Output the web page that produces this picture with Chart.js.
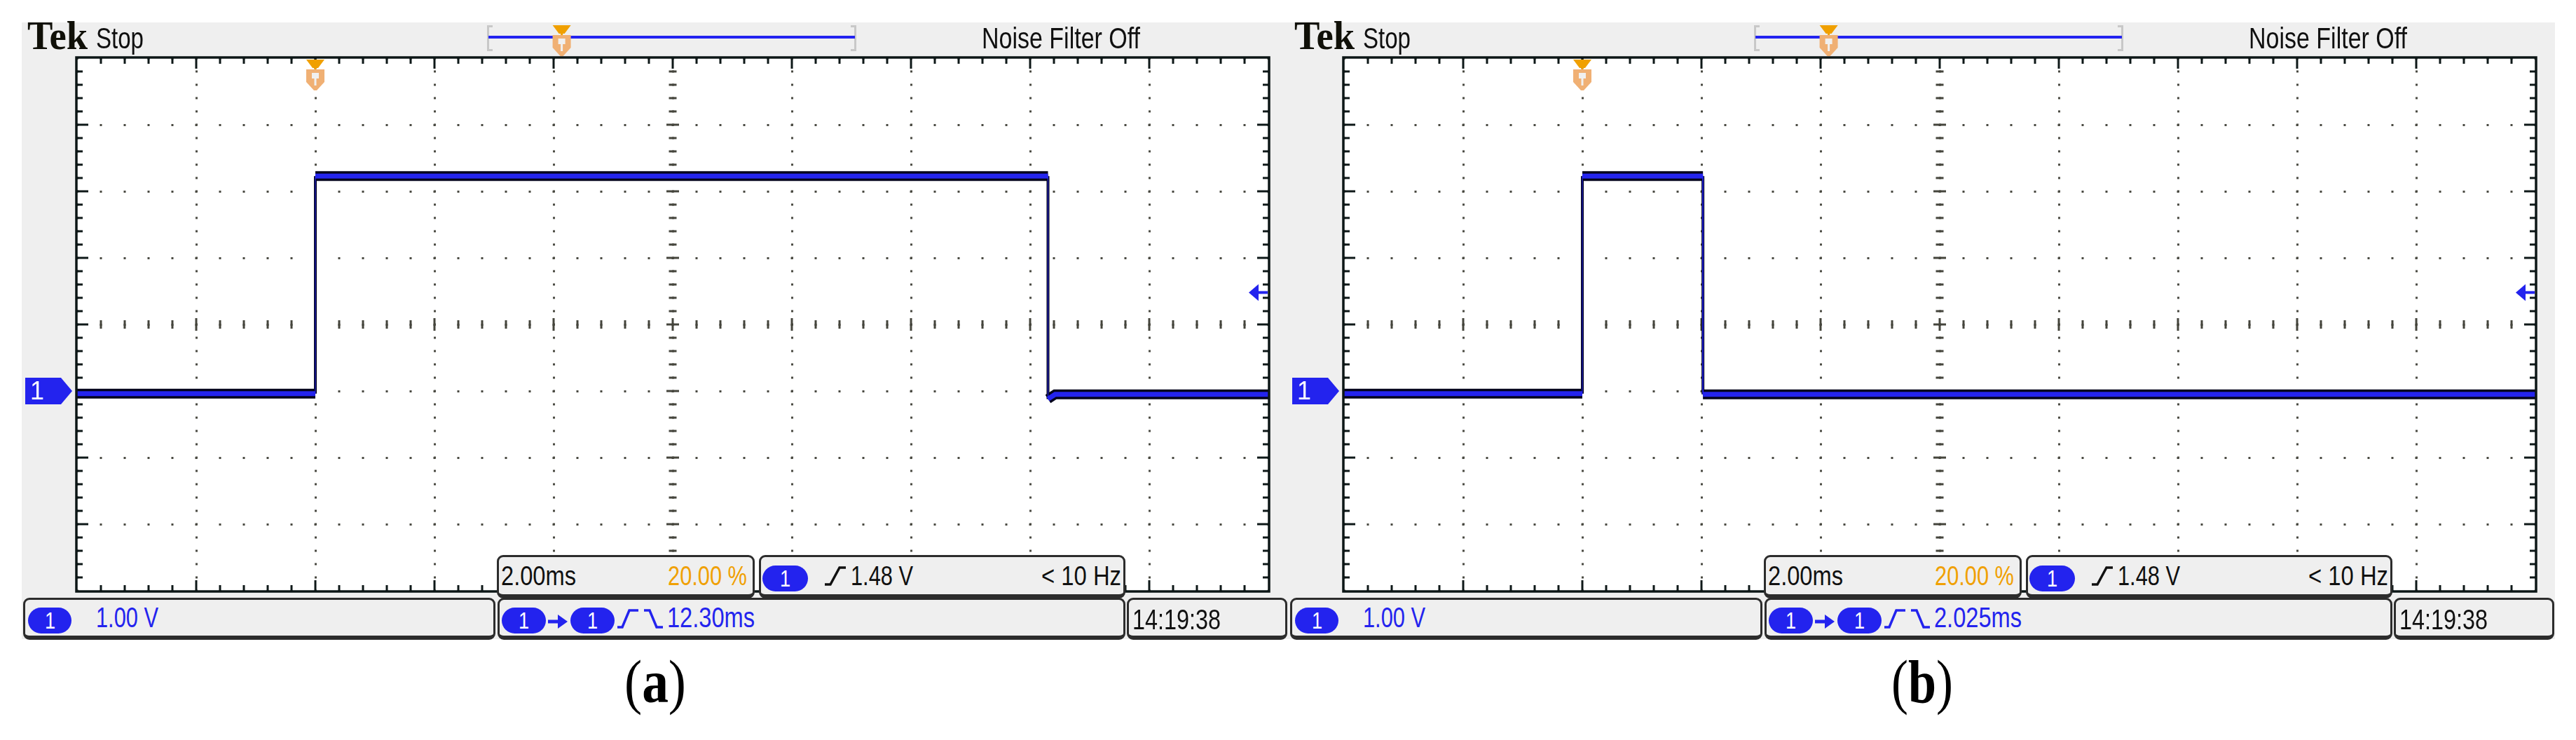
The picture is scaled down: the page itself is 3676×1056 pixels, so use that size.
<!DOCTYPE html>
<html>
<head>
<meta charset="utf-8">
<script src="https://cdn.jsdelivr.net/npm/chart.js@4.4.1/dist/chart.umd.min.js"></script>
<style>
  html, body { margin: 0; padding: 0; background: #fff; }
  #stage { position: relative; width: 3676px; height: 1056px; overflow: hidden; }
  .bg { position: absolute; left: 31px; top: 32px; width: 3615px; height: 880px; background: #efefef; }
  .panel { position: absolute; top: 0; width: 1840px; height: 1056px; }
  .panel canvas { position: absolute; left: 31px; top: 32px; }
  .t { position: absolute; white-space: nowrap; line-height: 1; transform-origin: 0 0;
       font-family: "Liberation Sans", Arial, sans-serif; color: #101010; }
  .serif { font-family: "Liberation Serif", "Times New Roman", serif; }
  .box { position: absolute; box-sizing: border-box; background: #efefef;
         border: 3px solid #2c2c2c; border-bottom-width: 6px; border-radius: 9px; }
  .pill { position: absolute; background: #2323ee; border-radius: 19px; color: #fff;
          font: 34px "Liberation Sans", Arial, sans-serif; text-align: center; }
  .pill span { display: inline-block; transform: scaleX(0.8); }
  svg { position: absolute; overflow: visible; }
</style>
</head>
<body>
<div id="stage">
  <div class="bg"></div>
  <div class="panel" id="panelA" style="left:0px"></div>
  <div class="panel" id="panelB" style="left:1808px"></div>
</div>
<script>
// Scope settings (2 ms/div, 1 V/div, trigger at 20 % of record)
const timeRange = [-4, 16];      // ms
const voltRange = [-3, 5];       // V, channel 1 ground at 0
const triggerLevel = 1.48;       // V
const triggerPct = 20.0;

// Captured pulses
const pulseA_t = [-4, 0, 0, 12.30, 12.30, 12.42, 16];
const pulseA_v = [-0.04, -0.04, 3.23, 3.23, -0.12, -0.05, -0.05];
const pulseB_t = [-4, 0, 0, 2.025, 2.025, 16];
const pulseB_v = [-0.04, -0.04, 3.23, 3.23, -0.05, -0.05];

// Readouts
const readoutA = ['2.00ms', '20.00 %', '1.48 V', '< 10 Hz', '1.00 V', '12.30ms', '14:19:38'];
const readoutB = ['2.00ms', '20.00 %', '1.48 V', '< 10 Hz', '1.00 V', '2.025ms', '14:19:38'];
const captions = ['(a)', '(b)'];

function txt(x, base, size, w, color, content, cls) {
  const k = cls === 'serif' ? 0.8375 : 0.8465;
  return `<span class="t ${cls || ''}" data-w="${w}" style="left:${x}px;top:${base - k * size}px;font-size:${size}px;color:${color}">${content}</span>`;
}
function pill(x, y, w, h) {
  return `<div class="pill" style="left:${x}px;top:${y}px;width:${w}px;height:${h}px;line-height:${h}px"><span>1</span></div>`;
}

function panelHtml(r, cap) {
  return `
    <canvas width="1807" height="880"></canvas>
    ${txt(39, 70, 56, 86, '#101008', '<b>Tek</b>', 'serif')}
    ${txt(137, 70, 42, 68, '#101010', 'Stop')}
    ${txt(1401, 70, 42, 226, '#101010', 'Noise Filter Off')}

    <div class="box" style="left:709px;top:792px;width:368px;height:62px"></div>
    ${txt(715, 835, 39, 107, '#101010', r[0])}
    ${txt(953, 835, 39, 113, '#f0a000', r[1])}

    <div class="box" style="left:1083px;top:792px;width:523px;height:62px"></div>
    ${pill(1088, 807, 65, 37)}
    <svg style="left:1177px;top:808px" width="30" height="28"><path d="M0,26 L8,26 L21,2 L30,2" fill="none" stroke="#101010" stroke-width="3.5"/></svg>
    ${txt(1214, 835, 39, 89, '#101010', r[2])}
    ${txt(1486, 835, 39, 114, '#101010', r[3])}

    <div class="box" style="left:33px;top:853px;width:674px;height:60px"></div>
    ${pill(40, 867, 62, 37)}
    ${txt(137, 896, 41, 89, '#2323ee', r[4])}

    <div class="box" style="left:710px;top:853px;width:896px;height:60px"></div>
    ${pill(716, 867, 63, 37)}
    <svg style="left:782px;top:875px" width="28" height="24"><path d="M0,12 L16,12" stroke="#2323ee" stroke-width="5"/><path d="M14,2 L28,12 L14,22 Z" fill="#2323ee"/></svg>
    ${pill(814, 867, 63, 37)}
    <svg style="left:881px;top:869px" width="65" height="28"><path d="M0,26 L7,26 L17,2 L30,2 M38,2 L46,2 L56,26 L65,26" fill="none" stroke="#2323ee" stroke-width="3.5"/></svg>
    ${txt(952, 896, 41, 125, '#2323ee', r[5])}

    <div class="box" style="left:1608px;top:853px;width:229px;height:60px"></div>
    ${txt(1616, 899, 41, 126, '#101010', r[6])}

    ${txt(891, 1002, 86, 88, '#000', '(<b>' + cap.slice(1, -1) + '</b>)', 'serif')}
  `;
}

function drawTrig(ctx, cx, y0) {
  ctx.fillStyle = '#f0a000';
  ctx.beginPath();
  ctx.moveTo(cx - 13, y0); ctx.lineTo(cx + 13, y0); ctx.lineTo(cx + 4, y0 + 12); ctx.lineTo(cx - 4, y0 + 12);
  ctx.closePath(); ctx.fill();
  ctx.fillRect(cx - 1.5, y0 + 12, 3, 3);
  ctx.fillStyle = '#f0b074';
  ctx.beginPath();
  ctx.moveTo(cx - 13, y0 + 14); ctx.lineTo(cx + 13, y0 + 14); ctx.lineTo(cx + 13, y0 + 32);
  ctx.lineTo(cx + 2, y0 + 44); ctx.lineTo(cx - 2, y0 + 44); ctx.lineTo(cx - 13, y0 + 32);
  ctx.closePath(); ctx.fill();
  ctx.fillStyle = '#f0f0f0';
  ctx.fillRect(cx - 5, y0 + 19, 10, 8);
  ctx.fillRect(cx - 1.5, y0 + 27, 3, 10);
}

// oscilloscope graticule, frame and markers
const scopeDecor = {
  id: 'scopeDecor',
  beforeDraw(chart) {
    const { ctx, chartArea: a } = chart;
    ctx.save();
    ctx.fillStyle = '#ffffff';
    ctx.fillRect(a.left, a.top, a.right - a.left, a.bottom - a.top);
    ctx.restore();
  },
  beforeDatasetsDraw(chart) {
    const { ctx, chartArea: a } = chart;
    const dx = (a.right - a.left) / 50, dy = (a.bottom - a.top) / 40;
    const cx = (a.left + a.right) / 2, cy = (a.top + a.bottom) / 2;
    ctx.save();
    ctx.fillStyle = '#0e1818';
    for (let i = 1; i < 50; i++) {
      const px = Math.round(a.left + i * dx);
      const len = i % 5 === 0 ? 15 : 8;
      ctx.fillRect(px - 1.5, a.top, 3, len);
      ctx.fillRect(px - 1.5, a.bottom - len, 3, len);
    }
    for (let j = 1; j < 40; j++) {
      const py = Math.round(a.top + j * dy);
      const len = j % 5 === 0 ? 16 : 8;
      ctx.fillRect(a.left, py - 1.5, len, 3);
      ctx.fillRect(a.right - len, py - 1.5, len, 3);
    }
    ctx.fillStyle = '#45453c';
    for (let i = 1; i < 50; i++) {
      const px = Math.round(a.left + i * dx);
      const h = i % 5 === 0 ? 18 : 12;
      ctx.fillRect(px - 1.5, cy - h / 2, 3, h);
    }
    for (let j = 1; j < 40; j++) {
      const py = Math.round(a.top + j * dy);
      const w = j % 5 === 0 ? 18 : 11;
      ctx.fillRect(cx - w / 2, py - 1.5, w, 3);
    }
    ctx.restore();
  },
  afterDraw(chart) {
    const { ctx, chartArea: a, scales: { x, y } } = chart;
    ctx.save();
    ctx.strokeStyle = '#0c1616';
    ctx.lineWidth = 3.5;
    ctx.strokeRect(a.left - 1, a.top - 1, a.right - a.left + 2, a.bottom - a.top + 2);

    // channel 1 ground marker
    const gy = y.getPixelForValue(0);
    ctx.fillStyle = '#2323ee';
    ctx.beginPath();
    ctx.moveTo(a.left - 74, gy - 19); ctx.lineTo(a.left - 23, gy - 19); ctx.lineTo(a.left - 7, gy);
    ctx.lineTo(a.left - 23, gy + 19); ctx.lineTo(a.left - 74, gy + 19);
    ctx.closePath(); ctx.fill();
    ctx.fillStyle = '#ffffff';
    ctx.font = '36px "Liberation Sans", Arial, sans-serif';
    ctx.textAlign = 'center';
    ctx.textBaseline = 'middle';
    ctx.fillText('1', a.left - 57, gy + 2);

    // trigger level arrow
    const ty = y.getPixelForValue(triggerLevel);
    ctx.fillStyle = '#2323ee';
    ctx.beginPath();
    ctx.moveTo(a.right - 28, ty); ctx.lineTo(a.right - 14, ty - 12); ctx.lineTo(a.right - 14, ty + 12);
    ctx.closePath(); ctx.fill();
    ctx.fillRect(a.right - 15, ty - 2, 14, 4);

    // trigger position marker
    drawTrig(ctx, x.getPixelForValue(0), a.top + 2);

    // record overview bar in the header
    ctx.fillStyle = '#c8c8c8';
    ctx.fillRect(664, 4, 3, 37); ctx.fillRect(664, 4, 8, 3); ctx.fillRect(664, 38, 8, 3);
    ctx.fillRect(1188, 4, 3, 37); ctx.fillRect(1183, 4, 8, 3); ctx.fillRect(1183, 38, 8, 3);
    ctx.fillStyle = '#2323f0';
    ctx.fillRect(666, 19, 523, 4);
    drawTrig(ctx, 666 + 523 * triggerPct / 100, 4);
    ctx.restore();
  }
};

function makeScope(canvas, t, v) {
  const pts = t.map((tm, i) => ({ x: tm, y: v[i] }));
  const vertical = c => c.p0.parsed.x === c.p1.parsed.x;
  new Chart(canvas.getContext('2d'), {
    type: 'line',
    data: {
      datasets: [
        // blue trace core (drawn on top)
        { data: pts, borderColor: '#2424ee', borderWidth: 7, pointRadius: 0, tension: 0, order: 0,
          segment: { borderWidth: c => vertical(c) ? 1 : 7 } },
        // dark envelope
        { data: pts, borderColor: '#04041c', borderWidth: 14, pointRadius: 0, tension: 0, order: 1,
          segment: { borderWidth: c => vertical(c) ? 4 : 14 } }
      ]
    },
    options: {
      responsive: false,
      animation: false,
      devicePixelRatio: 1,
      layout: { padding: { left: 79, top: 51, right: 28, bottom: 69 } },
      plugins: { legend: { display: false }, tooltip: { enabled: false } },
      scales: {
        x: {
          type: 'linear', min: timeRange[0], max: timeRange[1],
          ticks: { display: false, stepSize: 2 },
          grid: { color: '#4a4a42', lineWidth: 3, drawTicks: false },
          border: { display: false, dash: [3, 16], dashOffset: 1.5 }
        },
        y: {
          type: 'linear', min: voltRange[0], max: voltRange[1],
          ticks: { display: false, stepSize: 1 },
          grid: { color: '#4a4a42', lineWidth: 3, drawTicks: false },
          border: { display: false, dash: [3, 31], dashOffset: 1.5 }
        }
      }
    },
    plugins: [scopeDecor]
  });
}

function buildPanel(el, readout, cap, t, v) {
  el.innerHTML = panelHtml(readout, cap);
  el.querySelectorAll('.t').forEach(s => {
    const w = s.getBoundingClientRect().width;
    s.style.transform = `scaleX(${s.dataset.w / w})`;
  });
  makeScope(el.querySelector('canvas'), t, v);
}

buildPanel(document.getElementById('panelA'), readoutA, captions[0], pulseA_t, pulseA_v);
buildPanel(document.getElementById('panelB'), readoutB, captions[1], pulseB_t, pulseB_v);
</script>
</body>
</html>
